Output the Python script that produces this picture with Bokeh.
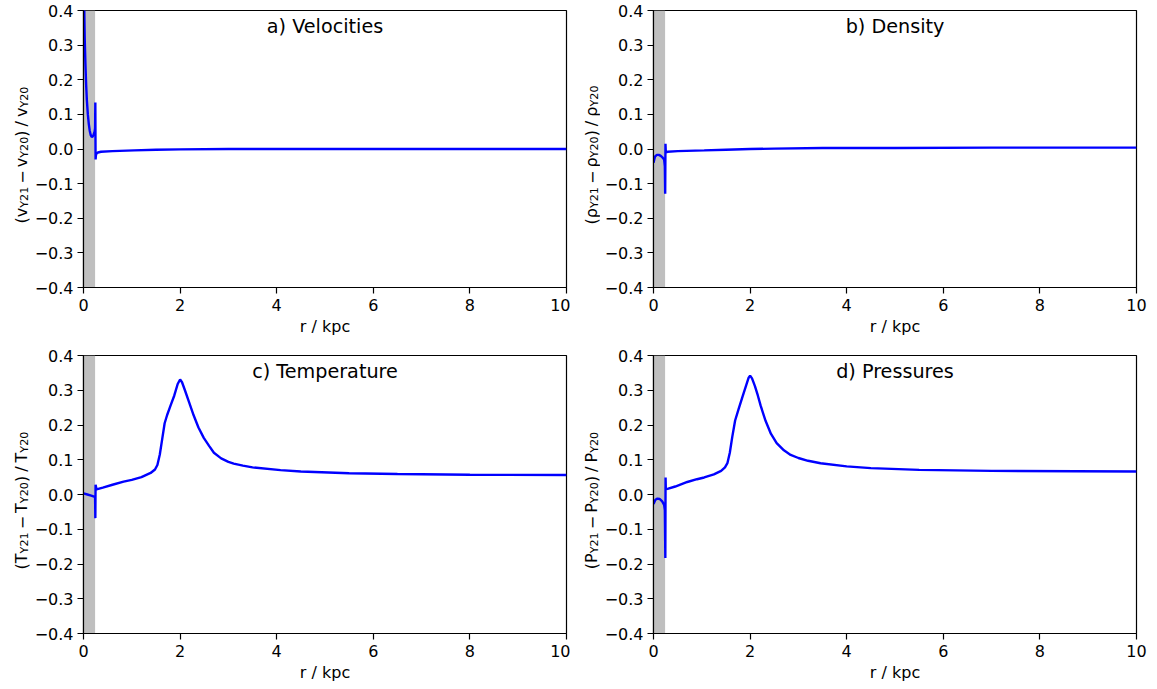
from bokeh.plotting import figure
from bokeh.layouts import column, row
from bokeh.models import Range1d, FixedTicker, CustomJSTickFormatter, Label
from bokeh.embed import file_html
from bokeh.resources import INLINE

# ---------------- data ----------------
x_ticks = [0, 2, 4, 6, 8, 10]
y_ticks = [-0.4, -0.3, -0.2, -0.1, 0.0, 0.1, 0.2, 0.3, 0.4]
band_left = [0.0]
band_right = [0.24]

titles = ["a) Velocities", "b) Density", "c) Temperature", "d) Pressures"]
symbols = ["v", "ρ", "T", "P"]

vel_x = [0.000, 0.010, 0.025, 0.040, 0.055, 0.070, 0.090, 0.110, 0.130, 0.150,
         0.170, 0.190, 0.210, 0.230, 0.240, 0.245, 0.250, 0.260, 0.300, 0.360,
         0.600, 1.050, 1.500, 2.000, 3.000, 10.00]
vel_y = [0.900, 0.450, 0.320, 0.245, 0.185, 0.140, 0.100, 0.072, 0.052, 0.040,
         0.035, 0.036, 0.042, 0.050, 0.060, 0.134, -0.030, -0.015, -0.010, -0.008,
         -0.006, -0.004, -0.002, -0.001, 0.000, 0.000]

den_x = [0.00, 0.03, 0.07, 0.11, 0.15, 0.19, 0.22, 0.235, 0.242, 0.248, 0.255,
         0.29, 0.50, 1.05, 1.50, 2.00, 2.50, 3.50, 5.00, 7.00, 10.0]
den_y = [-0.040, -0.022, -0.017, -0.017, -0.020, -0.025, -0.030, -0.050, -0.129, 0.015, -0.010,
         -0.008, -0.006, -0.004, -0.002, 0.000, 0.001, 0.003, 0.003, 0.004, 0.004]

tem_x = [0.00, 0.08, 0.16, 0.22, 0.240, 0.245, 0.250, 0.270, 0.40, 0.60, 0.83, 1.00,
         1.20, 1.39, 1.48, 1.53, 1.58, 1.63, 1.68, 1.73, 1.80, 1.88, 1.95, 2.00,
         2.04, 2.10, 2.18, 2.28, 2.38, 2.49, 2.60, 2.70, 2.85, 3.00, 3.11, 3.30,
         3.50, 4.08, 4.50, 5.50, 6.50, 8.00, 10.0]
tem_y = [0.003, 0.000, -0.003, -0.006, -0.008, -0.068, 0.028, 0.015, 0.020, 0.028, 0.037, 0.042,
         0.050, 0.062, 0.072, 0.085, 0.115, 0.160, 0.205, 0.228, 0.255, 0.285, 0.318, 0.331,
         0.323, 0.300, 0.268, 0.228, 0.193, 0.163, 0.140, 0.120, 0.104, 0.094, 0.089, 0.083,
         0.078, 0.070, 0.066, 0.061, 0.059, 0.057, 0.056]

pre_x = [0.00, 0.04, 0.08, 0.13, 0.18, 0.22, 0.235, 0.245, 0.250, 0.255, 0.29, 0.45,
         0.70, 0.90, 1.05, 1.25, 1.40, 1.48, 1.53, 1.58, 1.63, 1.69, 1.76, 1.84,
         1.92, 1.97, 2.00, 2.04, 2.10, 2.16, 2.22, 2.32, 2.43, 2.55, 2.70, 2.84,
         3.00, 3.20, 3.46, 4.00, 4.50, 5.50, 7.00, 10.0]
pre_y = [-0.027, -0.015, -0.012, -0.013, -0.020, -0.030, -0.045, -0.183, 0.049, 0.015, 0.016, 0.023,
         0.036, 0.044, 0.049, 0.058, 0.068, 0.078, 0.090, 0.120, 0.165, 0.213, 0.245, 0.280,
         0.315, 0.336, 0.342, 0.334, 0.312, 0.285, 0.255, 0.212, 0.175, 0.148, 0.127, 0.114,
         0.105, 0.097, 0.090, 0.081, 0.076, 0.071, 0.068, 0.066]

series = [(vel_x, vel_y), (den_x, den_y), (tem_x, tem_y), (pre_x, pre_y)]

# ---------------- style ----------------
FONT = "DejaVu Sans"
MAIN = 16.0
SUB = 11.2
TITLE = 19.2
W = {'(': 0.390, ')': 0.390, 'v': 0.592, ' ': 0.318, '−': 0.838, '/': 0.337,
     'Y': 0.611, '2': 0.636, '1': 0.636, '0': 0.636, 'ρ': 0.635, 'T': 0.611, 'P': 0.603}
LABW = 30


def tw(s, size):
    return sum(W.get(c, 0.6) for c in s) * size


def label_fig(sym, height, center_from_bottom):
    f = figure(frame_width=LABW, frame_height=height, output_backend="svg",
               toolbar_location=None, title=None,
               x_range=Range1d(0, LABW), y_range=Range1d(0, height),
               x_axis_location=None, y_axis_location=None,
               min_border_left=0, min_border_right=0, min_border_top=0, min_border_bottom=0,
               background_fill_color="white", border_fill_color="white")
    f.outline_line_color = None
    for g in f.grid:
        g.visible = False
    parts = [("(", 0, 0), (sym, 0, 0), ("Y21", 1, 0), ("−", 0, 3), (sym, 0, 3),
             ("Y20", 1, 0), (")", 0, 0), ("/", 0, 4), (sym, 0, 4), ("Y20", 1, 0)]
    total = sum(g + tw(t, SUB if s else MAIN) for t, s, g in parts)
    pos = center_from_bottom - total / 2.0
    for t, s, g in parts:
        pos += g
        size = SUB if s else MAIN
        f.add_layout(Label(x=(LABW if s else 21.0), y=pos, text=t,
                           x_units="screen", y_units="screen",
                           angle=1.5707963267948966, text_align="left",
                           text_baseline=("bottom" if s else "alphabetic"), text_font=FONT,
                           text_font_size=f"{size}px", text_color="black"))
        pos += tw(t, size)
    return f


def make(i, width, height, bl, br, bt, bb):
    p = figure(width=width, height=height, output_backend="svg", toolbar_location=None,
               x_range=Range1d(0, 10), y_range=Range1d(-0.4, 0.4),
               min_border_left=bl, min_border_right=br, min_border_top=bt, min_border_bottom=bb,
               background_fill_color="white", border_fill_color="white")
    p.xgrid.visible = False
    p.ygrid.visible = False
    p.outline_line_color = "black"
    p.outline_line_width = 1.2
    p.quad(left=band_left, right=band_right, bottom=[-0.4], top=[0.4],
           fill_color="#bfbfbf", line_color=None)
    xs, ys = series[i]
    p.line(xs, ys, line_color="blue", line_width=2.4)

    p.xaxis.ticker = FixedTicker(ticks=x_ticks)
    p.yaxis.ticker = FixedTicker(ticks=y_ticks)
    p.xaxis.formatter = CustomJSTickFormatter(code="return tick.toFixed(0);")
    p.yaxis.formatter = CustomJSTickFormatter(
        code="return (tick < -1e-9 ? '\u2212' : '') + Math.abs(tick).toFixed(1);")
    for ax in (p.xaxis[0], p.yaxis[0]):
        ax.axis_line_color = "black"
        ax.axis_line_width = 1.2
        ax.major_tick_line_color = "black"
        ax.major_tick_line_width = 1.2
        ax.minor_tick_line_color = None
        ax.major_tick_out = 6
        ax.major_tick_in = 0
        ax.major_label_standoff = 5
        ax.major_label_text_font = FONT
        ax.major_label_text_font_size = f"{MAIN}px"
        ax.major_label_text_color = "black"
    p.yaxis.major_label_standoff = 4
    p.xaxis.axis_label = "r / kpc"
    p.xaxis.axis_label_text_font = FONT
    p.xaxis.axis_label_text_font_size = f"{MAIN}px"
    p.xaxis.axis_label_text_font_style = "normal"
    p.xaxis.axis_label_text_color = "black"
    p.xaxis.axis_label_standoff = 3

    p.add_layout(Label(x=5, y=0.354, text=titles[i], text_align="center",
                       text_baseline="middle", text_font=FONT, text_font_size=f"{TITLE}px",
                       text_color="black"))
    return p


H1, H2 = 345, 344
la = label_fig(symbols[0], H1, H1 - 144.5)
pa = make(0, 570 - LABW, H1, 83 - LABW, 4, 10, 58)
lb = label_fig(symbols[1], H1, H1 - 144.5)
pb = make(1, 587 - LABW, H1, 83 - LABW, 21, 10, 58)
lc = label_fig(symbols[2], H2, H2 - 145.0)
pc = make(2, 570 - LABW, H2, 83 - LABW, 4, 10, 56)
ld = label_fig(symbols[3], H2, H2 - 145.0)
pd = make(3, 587 - LABW, H2, 83 - LABW, 21, 10, 56)

layout = column(row(la, pa, lb, pb), row(lc, pc, ld, pd))
open("out.html", "w").write(file_html(layout, INLINE))
